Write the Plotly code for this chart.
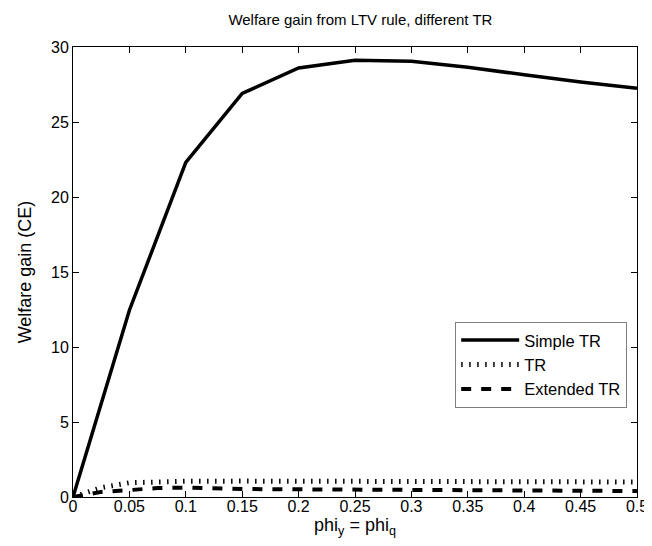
import plotly.graph_objects as go

x_simple = [0, 0.05, 0.1, 0.15, 0.2, 0.25, 0.3, 0.35, 0.4, 0.45, 0.5]
simple_tr = [0, 12.45, 22.3, 26.9, 28.6, 29.12, 29.05, 28.65, 28.15, 27.66, 27.25]

x_low = [0, 0.025, 0.05, 0.075, 0.1, 0.15, 0.2, 0.25, 0.3, 0.35, 0.4, 0.45, 0.5]
tr = [0, 0.62, 0.95, 1.03, 1.05, 1.06, 1.05, 1.05, 1.04, 1.03, 1.02, 1.01, 1.0]
extended_tr = [0, 0.34, 0.46, 0.6, 0.62, 0.53, 0.51, 0.5, 0.49, 0.45, 0.42, 0.41, 0.4]

x_ticks = [0, 0.05, 0.1, 0.15, 0.2, 0.25, 0.3, 0.35, 0.4, 0.45, 0.5]
x_ticklabels = ["0", "0.05", "0.1", "0.15", "0.2", "0.25", "0.3", "0.35", "0.4", "0.45", "0.5"]
y_ticks = [0, 5, 10, 15, 20, 25, 30]

FONT = "Liberation Sans, Arial, sans-serif"

fig = go.Figure()
fig.add_trace(go.Scatter(x=x_simple, y=simple_tr, mode="lines", name="Simple TR",
                         line=dict(color="black", width=3.5)))
fig.add_trace(go.Scatter(x=x_low, y=tr, mode="lines", name="TR",
                         line=dict(color="black", width=5, dash="1.5px,6.5px")))
fig.add_trace(go.Scatter(x=x_low, y=extended_tr, mode="lines", name="Extended TR",
                         line=dict(color="black", width=4, dash="10px,10px")))

axis_common = dict(showline=True, linecolor="black", linewidth=1, mirror="ticks",
                   ticks="inside", ticklen=6, tickcolor="black", showgrid=False,
                   zeroline=False, tickfont=dict(family=FONT, size=16, color="black"))

fig.update_layout(
    width=652, height=546,
    paper_bgcolor="white", plot_bgcolor="white",
    margin=dict(l=65, r=12, t=39, b=57),
    title=dict(text="Welfare gain from LTV rule, different TR", x=0.5405, xanchor="center",
               y=0.978, yanchor="middle", font=dict(family=FONT, size=15, color="black")),
    xaxis=dict(range=[0, 0.5], tickvals=x_ticks, ticktext=x_ticklabels,
               ticklabelstandoff=-5,
               title=dict(text="phi<sub>y</sub> = phi<sub>q</sub>", standoff=2,
                          font=dict(family=FONT, size=18, color="black")),
               **axis_common),
    yaxis=dict(range=[0, 30], tickvals=y_ticks,
               title=dict(text="Welfare gain (CE)", standoff=14,
                          font=dict(family=FONT, size=18, color="black")),
               **axis_common),
    legend=dict(x=0.9826, xanchor="right", y=0.198, yanchor="bottom",
                bgcolor="white", bordercolor="#7f7f7f", borderwidth=1,
                font=dict(family=FONT, size=16.5, color="black"),
                itemwidth=58, tracegroupgap=0),
    showlegend=True,
)

fig.write_html("out.html")
